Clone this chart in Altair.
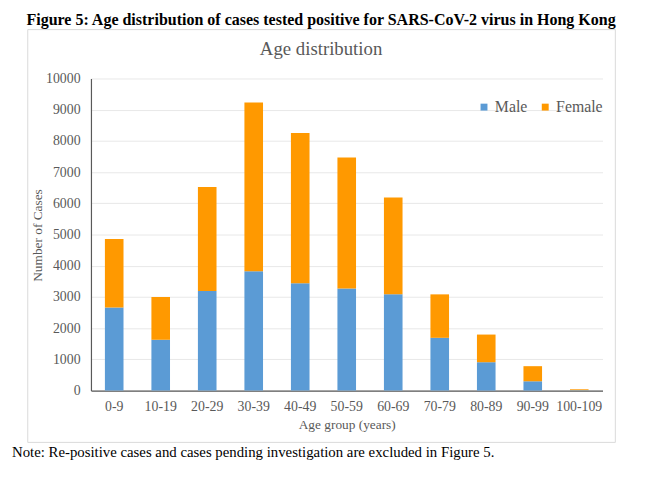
import altair as alt
import pandas as pd

ages = ["0-9", "10-19", "20-29", "30-39", "40-49", "50-59", "60-69",
        "70-79", "80-89", "90-99", "100-109"]
male = [2658, 1627, 3187, 3820, 3440, 3272, 3082, 1690, 908, 297, 12]
female = [2196, 1370, 3332, 5411, 4810, 4196, 3101, 1392, 886, 484, 28]
sexes = ["Male", "Female"]
colors = ["#5B9BD5", "#FF9900"]

fig_title = "Figure 5: Age distribution of cases tested positive for SARS-CoV-2 virus in Hong Kong"
chart_title = "Age distribution"
note = "Note: Re-positive cases and cases pending investigation are excluded in Figure 5."

rows = []
for a, m, f in zip(ages, male, female):
    rows.append({"age": a, "sex": "Male", "cases": m, "ord": 0})
    rows.append({"age": a, "sex": "Female", "cases": f, "ord": 1})
df = pd.DataFrame(rows)

FONT = "Liberation Serif"
W, H = 518, 316

box = alt.Chart(pd.DataFrame({"k": [0]})).mark_rect(
    fillOpacity=0, stroke="#d9d9d9", strokeWidth=1
).encode(
    x=alt.value(-64), x2=alt.value(531), y=alt.value(-49.5), y2=alt.value(368.5)
)

bars = alt.Chart(df).mark_bar().encode(
    x=alt.X("age:N", sort=ages,
            scale=alt.Scale(paddingInner=0.6, paddingOuter=0.3),
            axis=alt.Axis(title="Age group (years)", labelAngle=0, ticks=False,
                          labelPadding=9, domainColor="#595959", domainWidth=1.2,
                          labelFont=FONT, labelFontSize=14, labelColor="#595959",
                          titleFont=FONT, titleFontSize=13.5, titleColor="#595959",
                          titleFontWeight="normal",
                          titleY=34.5, titleBaseline="middle", titlePadding=0)),
    y=alt.Y("cases:Q", stack="zero",
            scale=alt.Scale(domain=[0, 10000], nice=False),
            axis=alt.Axis(title="Number of Cases", values=list(range(0, 10001, 1000)),
                          format="d",
                          ticks=False, labelPadding=11, domainColor="#595959",
                          domainWidth=1.2, gridColor="#e8e8e8",
                          labelFont=FONT, labelFontSize=14, labelColor="#595959",
                          titleFont=FONT, titleFontSize=13.5, titleColor="#595959",
                          titleFontWeight="normal",
                          titleX=-54, titleY=158.5, titleBaseline="middle",
                          titleAngle=-90)),
    color=alt.Color("sex:N", sort=sexes,
                    scale=alt.Scale(domain=sexes, range=colors),
                    legend=alt.Legend(title=None, orient="none", legendX=390,
                                      legendY=21, direction="horizontal",
                                      symbolType="square", symbolSize=49,
                                      symbolStrokeWidth=0, labelFontSize=16,
                                      labelFont=FONT, labelColor="#595959",
                                      labelOffset=3, columnPadding=10)),
    order=alt.Order("ord:Q"),
)

t1 = alt.Chart(pd.DataFrame({"t": [fig_title]})).mark_text(
    font=FONT, fontSize=16.2, fontWeight="bold", color="#000000",
    align="center", baseline="middle"
).encode(text="t:N", x=alt.value(233), y=alt.value(-59.5))

t2 = alt.Chart(pd.DataFrame({"t": [chart_title]})).mark_text(
    font=FONT, fontSize=19, color="#595959", align="center", baseline="middle"
).encode(text="t:N", x=alt.value(233), y=alt.value(-29.5))

t3 = alt.Chart(pd.DataFrame({"t": [note]})).mark_text(
    font=FONT, fontSize=15, color="#000000", align="left", baseline="middle"
).encode(text="t:N", x=alt.value(-80), y=alt.value(378.5))

chart = alt.layer(box, bars, t1, t2, t3).properties(
    width=W, height=H, autosize="none",
    padding={"left": 84, "top": 68.5, "right": 41, "bottom": 70.5},
    background="white",
).configure_view(stroke=None).configure_axis(
    labelFont=FONT, labelFontSize=14, labelColor="#595959",
    titleFont=FONT, titleFontSize=13.5, titleColor="#595959", titleFontWeight="normal",
)

chart.save("out.html", embed_options={"renderer": "svg", "actions": False})
